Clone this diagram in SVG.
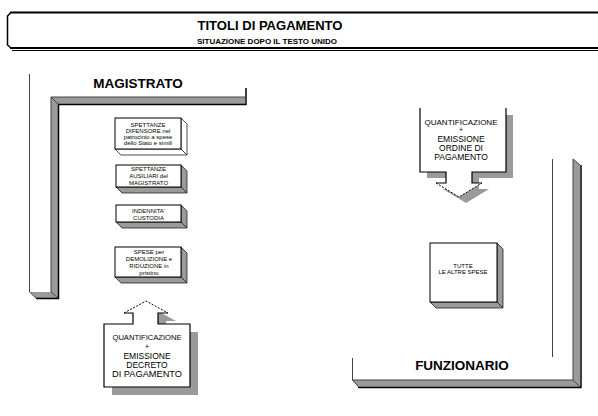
<svg xmlns="http://www.w3.org/2000/svg" width="598" height="416" viewBox="0 0 598 416">
<style>
text{font-family:"Liberation Sans",Arial,sans-serif;fill:#000;text-anchor:middle}
.hd{font-weight:bold;font-size:13.5px}
.sm{font-size:6px}
.q{font-size:8.5px}
.g{fill:#9a9a9a}
.dk{stroke:#444;stroke-width:1;fill:none}
.bk{stroke:#000;stroke-width:1.5;fill:none}
.face{fill:#fff;stroke:#000;stroke-width:1}
.side{fill:#9a9a9a;stroke:#222;stroke-width:0.8}
.sideW{fill:#fff;stroke:#222;stroke-width:0.8}
.dash{stroke:#000;stroke-width:1;stroke-dasharray:2 1.5;fill:none}
</style>
<rect width="598" height="416" fill="#fff"/>

<g id="title">
  <line x1="10" y1="12.5" x2="598" y2="12.5" stroke="#000" stroke-width="2"/>
  <path d="M11,12.5 L7.5,16 L7.5,45 L11,48" fill="none" stroke="#000" stroke-width="1.5"/>
  <line x1="10" y1="48" x2="598" y2="48" stroke="#000" stroke-width="2"/>
  <line x1="12" y1="50.5" x2="598" y2="50.5" stroke="#000" stroke-width="1"/>
  <text x="270" y="30" font-size="13" font-weight="bold" textLength="145" lengthAdjust="spacingAndGlyphs">TITOLI DI PAGAMENTO</text>
  <text x="267" y="43.5" font-size="6.5" font-weight="bold" textLength="140" lengthAdjust="spacingAndGlyphs">SITUAZIONE DOPO IL TESTO UNIDO</text>
</g>

<g id="magistrato">
  <line x1="29.5" y1="74" x2="29.5" y2="292" class="dk"/>
  <polygon class="g" points="29.5,292 51,292 51,97 245,97 245,104 58,104 58,298 36,298"/>
  <polyline class="dk" points="29.5,292 36,298"/>
  <line x1="51" y1="97" x2="51" y2="292" class="dk"/>
  <line x1="51" y1="292" x2="58" y2="298" class="dk"/>
  <line x1="51" y1="97" x2="245" y2="97" class="dk"/>
  <line x1="51" y1="97" x2="58" y2="104" class="dk"/>
  <polyline class="bk" points="246,88 246,104.5 58.5,104.5 58.5,298.5 36,298.5"/>
  <text class="hd" x="138" y="88">MAGISTRATO</text>
</g>

<g id="funzionario">
  <line x1="552.5" y1="159" x2="552.5" y2="357" class="dk"/>
  <polygon class="g" points="573,159 580,165 580,387 358,387 352,380 573,380"/>
  <polyline class="dk" points="352.5,358 352.5,380 358,386"/>
  <line x1="573" y1="159" x2="573" y2="380" class="dk"/>
  <line x1="573" y1="159" x2="580" y2="165" class="dk"/>
  <line x1="352.5" y1="380" x2="573" y2="380" class="dk"/>
  <line x1="573" y1="380" x2="580" y2="387" class="dk"/>
  <polyline class="bk" points="581,165 581,387.5 358,387.5"/>
  <text class="hd" x="462" y="370">FUNZIONARIO</text>
</g>

<g id="spettanze-difensore">
  <polygon class="sideW" points="181,118 187,124 187,155 181,149"/>
  <polygon class="sideW" points="115,149 181,149 187,155 121,155"/>
  <rect class="face" x="115" y="118" width="66" height="31"/>
  <text class="sm" x="148" y="127">SPETTANZE</text>
  <text class="sm" x="148" y="133">DIFENSORE nel</text>
  <text class="sm" x="148" y="139">patrocinio a spese</text>
  <text class="sm" x="148" y="145">dello Stato e simili</text>
</g>

<g id="spettanze-ausiliari">
  <polygon class="side" points="181,165 187,171 187,193 181,187"/>
  <polygon class="side" points="116,187 181,187 187,193 122,193"/>
  <rect class="face" x="116" y="165" width="65" height="22"/>
  <text class="sm" x="148.5" y="170.5">SPETTANZE</text>
  <text class="sm" x="148.5" y="177.5">AUSILIARI del</text>
  <text class="sm" x="148.5" y="184.5">MAGISTRATO</text>
</g>

<g id="indennita">
  <polygon class="side" points="181,205 187,211 187,228 181,222"/>
  <polygon class="side" points="116,222 181,222 187,228 122,228"/>
  <rect class="face" x="116" y="205" width="65" height="17"/>
  <text class="sm" x="148.5" y="212.5">INDENNITA'</text>
  <text class="sm" x="148.5" y="220">CUSTODIA</text>
</g>

<g id="spese-demolizione">
  <polygon class="side" points="181,247 187,253 187,283 181,277"/>
  <polygon class="side" points="115,277 181,277 187,283 121,283"/>
  <rect class="face" x="115" y="247" width="66" height="30"/>
  <text class="sm" x="149" y="254">SPESE per</text>
  <text class="sm" x="149" y="261">DEMOLIZIONE e</text>
  <text class="sm" x="149" y="268">RIDUZIONE in</text>
  <text class="sm" x="149" y="275">pristino</text>
</g>

<g id="quant-decreto">
  <path class="g" d="M112,332 L141,332 L141,321 L132,321 L154,309 L176,321 L166,321 L166,332 L198,332 L198,395 L112,395 Z"/>
  <path d="M104,324 L133,324 L133,313 L124,313 L146,301 L168,313 L158,313 L158,324 L190,324 L190,387 L104,387 Z" fill="#fff"/>
  <polyline class="dash" points="124,313 146,301 168,313"/>
  <polyline points="124,313 133,313 133,324 104,324 104,387 190,387 190,324 158,324 158,313 168,313" fill="none" stroke="#000" stroke-width="1.2"/>
  <text x="147" y="340" font-size="7.5" textLength="69" lengthAdjust="spacingAndGlyphs">QUANTIFICAZIONE</text>
  <text x="147" y="349" font-size="7">+</text>
  <text class="q" x="147" y="358.5">EMISSIONE</text>
  <text class="q" x="147" y="367.5">DECRETO</text>
  <text class="q" x="147" y="376.5" textLength="70" lengthAdjust="spacingAndGlyphs">DI PAGAMENTO</text>
</g>

<g id="quant-ordine">
  <path class="g" d="M427,115 L513,115 L513,178 L479,178 L479,189 L489,189 L466,203 L443,189 L453,189 L453,178 L427,178 Z"/>
  <path d="M420,108 L420,172 L446,172 L446,183 L436,183 L459,197 L482,183 L472,183 L472,172 L506,172 L506,108 Z" fill="#fff"/>
  <polyline class="dash" points="436,183 459,197 482,183"/>
  <polyline points="420,108 420,172 446,172 446,183 436,183" fill="none" stroke="#000" stroke-width="1.2"/>
  <polyline points="482,183 472,183 472,172 506,172 506,108" fill="none" stroke="#000" stroke-width="1.2"/>
  <text x="461" y="125" font-size="7.5" textLength="73" lengthAdjust="spacingAndGlyphs">QUANTIFICAZIONE</text>
  <text x="461" y="132" font-size="7">+</text>
  <text class="q" x="461" y="142">EMISSIONE</text>
  <text class="q" x="461" y="151">ORDINE DI</text>
  <text class="q" x="461" y="160">PAGAMENTO</text>
</g>

<g id="altre-spese">
  <polygon class="side" points="497,243 503,249 503,308 497,302"/>
  <polygon class="side" points="430,302 497,302 503,308 436,308"/>
  <rect class="face" x="430" y="243" width="67" height="59"/>
  <text class="sm" x="463" y="268">TUTTE</text>
  <text class="sm" x="463" y="274">LE ALTRE SPESE</text>
</g>

<g id="connectors"></g>
</svg>
